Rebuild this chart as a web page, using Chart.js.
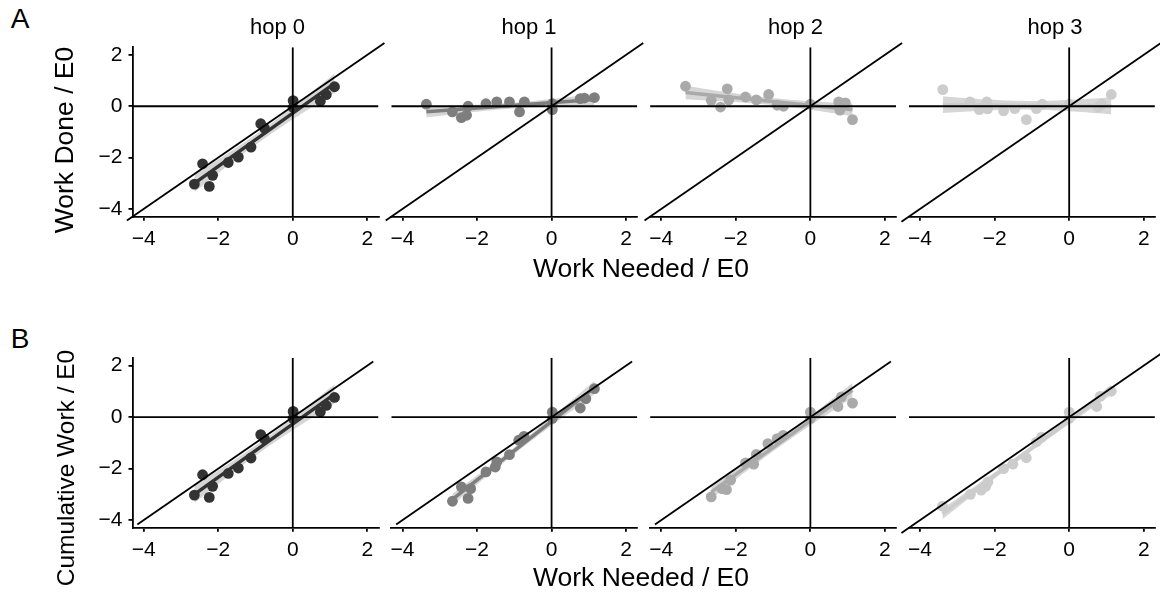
<!DOCTYPE html>
<html>
<head>
<meta charset="utf-8">
<script src="https://cdn.jsdelivr.net/npm/chart.js@4.4.1/dist/chart.umd.min.js"></script>
<style>
  html, body { margin: 0; padding: 0; background: #fff; }
  #fig { position: relative; width: 1160px; height: 592px; overflow: hidden;
         font-family: "Liberation Sans", Arial, Helvetica, sans-serif; color: #000; }
  #fig canvas { position: absolute; }
  .t { position: absolute; white-space: nowrap; line-height: 1; transform: translate(-50%, -50%); }
  .rot { transform: translate(-50%, -50%) rotate(-90deg); }
</style>
</head>
<body>
<div id="fig"></div>
<script>
// ---- data -------------------------------------------------------------
const hopLabels = ['hop 0', 'hop 1', 'hop 2', 'hop 3'];
const tickValues = [-4, -2, 0, 2];
const axisMin = -4.3;
const axisMax = 2.3;
const hopColors = ['#333333', '#7E7E7E', '#AAAAAA', '#CCCCCC'];

// Row A: work done at each hop vs. work needed
const doneX0 = [-2.64, -2.42, -2.24, -2.15, -1.73, -1.46, -1.12, -0.86, -0.76, 0.01, 0.01, 0.74, 0.90, 1.12];
const doneY0 = [-3.03, -2.24, -3.12, -2.69, -2.19, -1.98, -1.59, -0.68, -0.85, 0.22, -0.05, 0.20, 0.45, 0.76];
const doneX1 = [-3.36, -2.66, -2.42, -2.28, -2.24, -1.76, -1.47, -1.13, -0.86, -0.73, 0.02, 0.02, 0.77, 0.88, 1.15];
const doneY1 = [0.08, -0.22, -0.44, -0.35, 0.00, 0.10, 0.17, 0.17, -0.22, 0.17, 0.10, -0.13, 0.30, 0.32, 0.34];
const doneX2 = [-3.35, -2.66, -2.41, -2.23, -2.19, -1.74, -1.45, -1.12, -0.89, -0.72, 0.00, 0.76, 0.94, 0.79, 1.13];
const doneY2 = [0.78, 0.23, -0.03, 0.68, 0.25, 0.36, 0.25, 0.46, 0.04, 0.00, 0.08, 0.17, 0.13, -0.15, -0.52];
const doneX3 = [-3.39, -2.66, -2.41, -2.21, -2.19, -1.76, -1.46, -1.15, -0.88, -0.72, 0.00, 0.78, 0.87, 1.13];
const doneY3 = [0.65, 0.17, -0.13, 0.17, -0.10, -0.18, -0.09, -0.52, -0.09, 0.08, 0.08, -0.03, 0.08, 0.46];

// Row B: cumulative work up to each hop vs. work needed
const cumX0 = doneX0;
const cumY0 = doneY0;
const cumX1 = [-2.66, -2.42, -2.24, -2.17, -1.76, -1.51, -1.47, -1.13, -0.88, -0.74, 0.02, 0.02, 0.77, 0.92, 1.15];
const cumY1 = [-3.27, -2.71, -3.16, -2.78, -2.13, -1.94, -1.74, -1.46, -0.90, -0.75, 0.19, -0.05, 0.35, 0.71, 1.10];
const cumX2 = [-2.66, -2.37, -2.25, -2.14, -1.74, -1.52, -1.45, -1.14, -0.89, -0.73, 0.00, 0.00, 0.74, 0.83, 1.13];
const cumY2 = [-3.10, -2.78, -2.82, -2.45, -1.78, -1.83, -1.45, -1.03, -0.84, -0.71, 0.19, -0.05, 0.41, 0.78, 0.54];
const cumX3 = [-3.40, -2.65, -2.36, -2.24, -2.18, -1.76, -1.51, -1.15, -0.88, -0.74, 0.00, 0.00, 0.74, 0.83, 1.13];
const cumY3 = [-3.46, -3.00, -2.84, -2.69, -2.52, -2.00, -1.83, -1.58, -0.97, -0.78, 0.19, -0.05, 0.41, 0.80, 1.00];

// extent of the y = x reference line in each panel
const diagLoA = [-4.45, -4.45, -4.45, -4.5];
const diagHiA = [2.46, 2.46, 2.46, 2.5];
const diagLoB = [-4.17, -4.17, -4.17, -4.5];
const diagHiB = [2.16, 2.16, 2.16, 2.5];

// ---- layout -----------------------------------------------------------
const colLeft = [132.5, 391.3, 650.1, 908.9];
const areaW = 246;
const rowTop = [47.2, 357.8];
const rowH = [169.5, 170.0];
const FONT = "'Liberation Sans', Arial, Helvetica, sans-serif";
const fig = document.getElementById('fig');

function addText(txt, cx, cy, size, rotate) {
  const d = document.createElement('div');
  d.className = 't' + (rotate ? ' rot' : '');
  d.textContent = txt;
  d.style.left = cx + 'px';
  d.style.top = cy + 'px';
  d.style.fontSize = size + 'px';
  fig.appendChild(d);
}

// least-squares line with its 95% confidence band
function linFit(xs, ys) {
  const n = xs.length;
  const mx = xs.reduce((a, b) => a + b, 0) / n;
  const my = ys.reduce((a, b) => a + b, 0) / n;
  let sxx = 0, sxy = 0;
  for (let i = 0; i < n; i++) { sxx += (xs[i] - mx) ** 2; sxy += (xs[i] - mx) * (ys[i] - my); }
  const b = sxy / sxx, a = my - b * mx;
  let sse = 0;
  for (let i = 0; i < n; i++) sse += (ys[i] - a - b * xs[i]) ** 2;
  const s = Math.sqrt(sse / (n - 2));
  const t = 2.16;
  return { a, b, half: x => t * s * Math.sqrt(1 / n + (x - mx) ** 2 / sxx) };
}

function axisStyle(show) {
  return {
    type: 'linear', min: axisMin, max: axisMax, display: show,
    afterBuildTicks: s => { s.ticks = tickValues.map(v => ({ value: v })); },
    border: { display: true, color: '#000', width: 1.8 },
    grid: { display: true, drawOnChartArea: false, drawTicks: true, tickLength: 4, color: '#000', lineWidth: 1.8 },
    ticks: {
      color: '#000', padding: 6, maxRotation: 0, autoSkip: false,
      font: { family: FONT, size: 21 },
      callback: v => String(v).replace('-', '\u2212')
    }
  };
}

// axis boxes get a fixed size and no label overhang, so every panel's plot area is identical
function fixBox(s, w, h) {
  if (w !== null) s.width = w;
  if (h !== null) s.height = h;
  s.paddingTop = 0; s.paddingBottom = 0; s.paddingLeft = 0; s.paddingRight = 0;
}

function makePanel(row, col, xs, ys, dLo, dHi) {
  const aL = colLeft[col], aT = rowTop[row], aH = rowH[row];
  const yW = 44, xH = 40;
  const cL = Math.floor(aL) - 58, cT = Math.floor(aT) - 14;
  const cW = areaW + 58 + 18, cH = Math.ceil(aH) + 14 + 44;
  const canvas = document.createElement('canvas');
  canvas.width = cW; canvas.height = cH;
  canvas.style.left = cL + 'px'; canvas.style.top = cT + 'px';
  canvas.style.width = cW + 'px'; canvas.style.height = cH + 'px';
  fig.appendChild(canvas);
  const hasY = col === 0;
  const pad = {
    left: aL - cL - (hasY ? yW : 0),
    top: aT - cT,
    right: cL + cW - (aL + areaW),
    bottom: cT + cH - (aT + aH) - xH
  };
  const color = hopColors[col];
  const fit = linFit(xs, ys);
  const xLo = Math.min(...xs), xHi = Math.max(...xs);
  const steps = [];
  for (let i = 0; i <= 40; i++) steps.push(xLo + (xHi - xLo) * i / 40);
  const lower = steps.map(x => ({ x, y: fit.a + fit.b * x - fit.half(x) }));
  const upper = steps.map(x => ({ x, y: fit.a + fit.b * x + fit.half(x) }));
  const fitLine = [{ x: xLo, y: fit.a + fit.b * xLo }, { x: xHi, y: fit.a + fit.b * xHi }];
  const pts = xs.map((x, i) => ({ x, y: ys[i] }));
  const ref = { borderColor: '#000', borderWidth: 1.8, pointRadius: 0, fill: false, order: 0 };

  const xScale = axisStyle(true);
  xScale.afterFit = s => fixBox(s, null, xH);
  const yScale = axisStyle(hasY);
  yScale.afterFit = s => fixBox(s, hasY ? yW : 0, null);

  new Chart(canvas, {
    type: 'line',
    data: {
      datasets: [
        Object.assign({ data: [{ x: dLo, y: dLo }, { x: dHi, y: dHi }], clip: false }, ref),
        Object.assign({ data: [{ x: axisMin, y: 0 }, { x: axisMax, y: 0 }] }, ref),
        Object.assign({ data: [{ x: 0, y: axisMin }, { x: 0, y: axisMax }] }, ref),
        { data: fitLine, borderColor: color, borderWidth: 3.5, pointRadius: 0, fill: false, order: 1 },
        { data: pts, showLine: false, pointRadius: 5.4, pointBorderWidth: 0,
          pointBackgroundColor: color, backgroundColor: color, order: 2, clip: false },
        { data: lower, borderWidth: 0, pointRadius: 0, fill: false, order: 3 },
        { data: upper, borderWidth: 0, pointRadius: 0, fill: '-1',
          backgroundColor: 'rgba(153,153,153,0.4)', order: 3 }
      ]
    },
    options: {
      responsive: false, animation: false, events: [],
      layout: { padding: pad },
      plugins: { legend: { display: false }, tooltip: { enabled: false } },
      scales: { x: xScale, y: yScale }
    }
  });
}

const doneX = [doneX0, doneX1, doneX2, doneX3];
const doneY = [doneY0, doneY1, doneY2, doneY3];
const cumX = [cumX0, cumX1, cumX2, cumX3];
const cumY = [cumY0, cumY1, cumY2, cumY3];
for (let c = 0; c < 4; c++) {
  makePanel(0, c, doneX[c], doneY[c], diagLoA[c], diagHiA[c]);
  makePanel(1, c, cumX[c], cumY[c], diagLoB[c], diagHiB[c]);
}

// ---- text -------------------------------------------------------------
addText('A', 20, 19, 28);
addText('B', 20, 339, 28);
const stripX = [277.5, 529, 795.5, 1055];
hopLabels.forEach((h, i) => addText(h, stripX[i], 27, 22));
addText('Work Needed / E0', 641, 268, 26.5);
addText('Work Needed / E0', 641, 577, 26.5);
addText('Work Done / E0', 64, 140, 26.5, true);
addText('Cumulative Work / E0', 66, 468, 24.5, true);
</script>
</body>
</html>
